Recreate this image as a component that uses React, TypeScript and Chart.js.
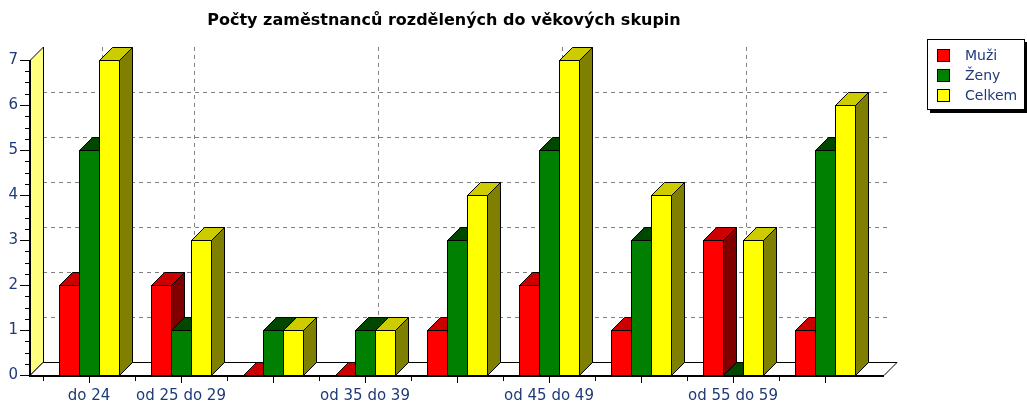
import { useEffect, useRef } from 'react';
import { Chart, registerables } from 'chart.js';

Chart.register(...registerables);

const chartTitle = 'Počty zaměstnanců rozdělených do věkových skupin';
const categories = ['do 24', 'od 25 do 29', 'od 30 do 34', 'od 35 do 39', 'od 40 do 44', 'od 45 do 49', 'od 50 do 54', 'od 55 do 59', 'nad 60'];
const xTickLabels = ['do 24', 'od 25 do 29', '', 'od 35 do 39', '', 'od 45 do 49', '', 'od 55 do 59', ''];
const yTicks = [0, 1, 2, 3, 4, 5, 6, 7];
const seriesNames = ['Muži', 'Ženy', 'Celkem'];
const muzi = [2, 2, 0, 0, 1, 2, 1, 3, 1];
const zeny = [5, 1, 1, 1, 3, 5, 3, 0, 5];
const celkem = [7, 3, 1, 1, 4, 7, 4, 3, 6];

const frontColors = ['#ff0000', '#008000', '#ffff00'];
const topColors = ['#cc0000', '#004800', '#cccc00'];
const sideColors = ['#800000', '#004000', '#808000'];
const textColor = '#1f3a7a';
const FONT = 'DejaVu Sans';
const D = 13;

const threeD = {
  id: 'threeD',
  beforeDatasetsDraw(chart: any) {
    const { ctx, chartArea: a, scales } = chart;
    const x = scales.x;
    const y = scales.y;
    const y0 = Math.round(y.getPixelForValue(0));
    const yMax = Math.round(y.getPixelForValue(yTicks[yTicks.length - 1]));
    const fl = a.left - D;
    const fr = a.right + D;
    ctx.save();
    // back wall grid
    ctx.strokeStyle = '#808080';
    ctx.lineWidth = 1;
    ctx.setLineDash([4, 4]);
    for (const v of yTicks) {
      if (v === 0 || v === yTicks[yTicks.length - 1]) continue;
      const py = Math.round(y.getPixelForValue(v) - D) + 0.5;
      ctx.beginPath();
      ctx.moveTo(a.left, py);
      ctx.lineTo(fr + D - 6, py);
      ctx.stroke();
    }
    xTickLabels.forEach((l, i) => {
      if (!l) return;
      const px = Math.round(x.getPixelForValue(i) + D) + 0.5;
      ctx.beginPath();
      ctx.moveTo(px, yMax - D);
      ctx.lineTo(px, y0 - D);
      ctx.stroke();
    });
    ctx.setLineDash([]);
    ctx.strokeStyle = '#000';
    // left wall
    ctx.fillStyle = '#ffff80';
    ctx.beginPath();
    ctx.moveTo(fl + 0.5, y0);
    ctx.lineTo(fl + 0.5, yMax);
    ctx.lineTo(fl + D + 0.5, yMax - D);
    ctx.lineTo(fl + D + 0.5, y0 - D);
    ctx.closePath();
    ctx.fill();
    ctx.stroke();
    // floor
    ctx.fillStyle = '#ffffff';
    ctx.beginPath();
    ctx.moveTo(fl, y0 + 0.5);
    ctx.lineTo(fr, y0 + 0.5);
    ctx.lineTo(fr + D, y0 - D + 0.5);
    ctx.lineTo(fl + D, y0 - D + 0.5);
    ctx.closePath();
    ctx.fill();
    ctx.stroke();
    // axis lines
    ctx.lineWidth = 2;
    ctx.beginPath();
    ctx.moveTo(fl, yMax);
    ctx.lineTo(fl, y0 + 1);
    ctx.lineTo(fr, y0 + 1);
    ctx.stroke();
    // y ticks
    ctx.lineWidth = 1;
    for (let i = 0; i < yTicks.length; i++) {
      const v = yTicks[i];
      const py = Math.round(y.getPixelForValue(v)) + 0.5;
      ctx.beginPath();
      ctx.moveTo(fl - 10, py);
      ctx.lineTo(fl, py);
      ctx.stroke();
      if (i < yTicks.length - 1) {
        for (let q = 1; q < 4; q++) {
          const pq = Math.round(y.getPixelForValue(v + q / 4)) + 0.5;
          ctx.beginPath();
          ctx.moveTo(fl - 5, pq);
          ctx.lineTo(fl, pq);
          ctx.stroke();
        }
      }
    }
    // x ticks
    for (let i = 0; i < categories.length; i++) {
      const pc = Math.round(x.getPixelForValue(i)) + 0.5;
      ctx.beginPath();
      ctx.moveTo(pc, y0 + 2);
      ctx.lineTo(pc, y0 + 8);
      ctx.stroke();
      const pb = Math.round(x.getPixelForValue(i - 0.5)) + 0.5;
      ctx.beginPath();
      ctx.moveTo(pb, y0 + 2);
      ctx.lineTo(pb, y0 + 6);
      ctx.stroke();
    }
    ctx.restore();
  },
  afterDatasetsDraw(chart: any) {
    const { ctx } = chart;
    ctx.save();
    ctx.strokeStyle = '#000';
    ctx.lineWidth = 1;
    ctx.lineJoin = 'miter';
    for (let d = 0; d < chart.data.datasets.length; d++) {
      const meta = chart.getDatasetMeta(d);
      meta.data.forEach((bar: any) => {
        const p = bar.getProps(['x', 'y', 'base', 'width'], true);
        const l = Math.round(p.x - p.width / 2) + 0.5;
        const r = Math.round(p.x + p.width / 2) + 0.5;
        const t = Math.round(p.y) + 0.5;
        const b = Math.round(p.base) + 0.5;
        if (b - t > 0.5) {
          ctx.fillStyle = frontColors[d];
          ctx.fillRect(l, t, r - l, b - t);
          ctx.strokeRect(l, t, r - l, b - t);
        }
        ctx.fillStyle = sideColors[d];
        ctx.beginPath();
        ctx.moveTo(r, t);
        ctx.lineTo(r + D, t - D);
        ctx.lineTo(r + D, b - D);
        ctx.lineTo(r, b);
        ctx.closePath();
        ctx.fill();
        ctx.stroke();
        ctx.fillStyle = topColors[d];
        ctx.beginPath();
        ctx.moveTo(l, t);
        ctx.lineTo(l + D, t - D);
        ctx.lineTo(r + D, t - D);
        ctx.lineTo(r, t);
        ctx.closePath();
        ctx.fill();
        ctx.stroke();
      });
    }
    ctx.restore();
  },
  afterDraw(chart: any) {
    const { ctx } = chart;
    ctx.save();
    ctx.fillStyle = '#000';
    ctx.font = `bold 16px "${FONT}"`;
    ctx.textAlign = 'center';
    ctx.textBaseline = 'middle';
    ctx.fillText(chartTitle, 444, 21);
    const bx = 927, by = 39, bw = 98, bh = 71;
    ctx.fillStyle = '#000';
    ctx.fillRect(bx + 3, by + 3, bw, bh);
    ctx.fillStyle = '#fff';
    ctx.fillRect(bx, by, bw, bh);
    ctx.strokeStyle = '#000';
    ctx.lineWidth = 1;
    ctx.strokeRect(bx + 0.5, by + 0.5, bw - 1, bh - 1);
    ctx.font = `14px "${FONT}"`;
    ctx.textAlign = 'left';
    seriesNames.forEach((name, i) => {
      const cy = by + 17 + i * 20;
      ctx.fillStyle = frontColors[i];
      ctx.fillRect(bx + 10.5, cy - 6.5, 12, 12);
      ctx.strokeRect(bx + 10.5, cy - 6.5, 12, 12);
      ctx.fillStyle = textColor;
      ctx.fillText(name, bx + 38, cy);
    });
    ctx.restore();
  },
};

export default function App() {
  const ref = useRef<HTMLCanvasElement>(null);
  useEffect(() => {
    document.body.style.margin = '0';
    document.body.style.overflow = 'hidden';
    const canvas = ref.current;
    if (!canvas) return;
    const seriesValues = [muzi, zeny, celkem];
    const chart = new Chart(canvas, {
      type: 'bar',
      data: {
        labels: categories,
        datasets: seriesNames.map((name, i) => ({
          label: name,
          data: seriesValues[i],
          backgroundColor: frontColors[i],
          borderWidth: 0,
          categoryPercentage: 0.652,
          barPercentage: 1,
        })),
      },
      options: {
        responsive: false,
        animation: false,
        events: [],
        layout: { padding: { top: 60, right: 156, left: 0, bottom: 0 } },
        plugins: {
          legend: { display: false },
          title: { display: false },
          tooltip: { enabled: false },
        },
        scales: {
          x: {
            grid: { display: false, drawTicks: false },
            border: { display: false },
            ticks: {
              autoSkip: false,
              maxRotation: 0,
              padding: 12,
              color: textColor,
              font: { family: FONT, size: 15 },
              callback: (_v: any, i: number) => xTickLabels[i],
            },
            afterFit: (s: any) => { s.height = 30; },
          },
          y: {
            min: 0,
            max: 7,
            grid: { display: false, drawTicks: true, tickLength: 22 },
            border: { display: false },
            ticks: {
              stepSize: 1,
              padding: 3,
              color: textColor,
              font: { family: FONT, size: 15 },
            },
            afterFit: (s: any) => { s.width = 43; },
          },
        },
      },
      plugins: [threeD],
    });
    return () => chart.destroy();
  }, []);
  return <canvas ref={ref} width={1027} height={405} style={{ display: 'block' }} />;
}
